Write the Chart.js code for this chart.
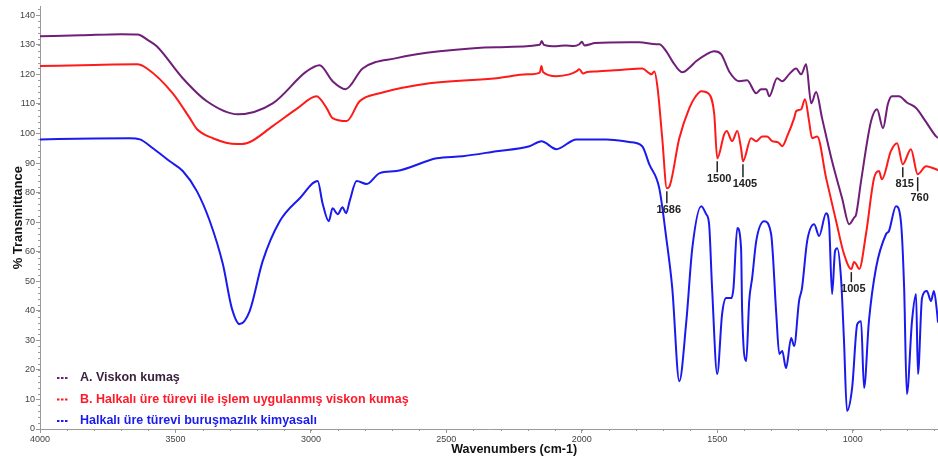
<!DOCTYPE html>
<html>
<head>
<meta charset="utf-8">
<script src="https://cdn.jsdelivr.net/npm/chart.js@4.4.1/dist/chart.umd.min.js"></script>
<style>
  html, body { margin: 0; padding: 0; background: #fff; }
  #wrap { width: 938px; height: 459px; }
</style>
</head>
<body>
<div id="wrap"><canvas id="ftir"></canvas></div>
<script>
// serilerin adlari
var seriesNames = [
    'A. Viskon kumaş',
    'B. Halkalı üre türevi ile işlem uygulanmış viskon kumaş',
    'Halkalı üre türevi buruşmazlık kimyasalı'
];
var xTitle = 'Wavenumbers (cm-1)';
var yTitle = '% Transmittance';

// A - viskon kumas (dalga sayisi, %T)
var wnA = [4000, 3850, 3700, 3640, 3600, 3569, 3473, 3384, 3270, 3141, 3016, 2968, 2920, 2872, 2809, 2684, 2525, 2315, 2155, 2148, 2140, 2094, 2060, 2030, 2009, 2000, 1990, 1950, 1824, 1788, 1725, 1714, 1688, 1666, 1629, 1600, 1577, 1540, 1511, 1485, 1456, 1419, 1390, 1356, 1338, 1319, 1308, 1279, 1260, 1235, 1209, 1190, 1172, 1153, 1135, 1113, 1076, 1039, 1013, 995, 987, 969, 932, 910, 888, 870, 855, 829, 800, 766, 730, 692, 685];
var tA = [132.9, 133.2, 133.6, 133.5, 131.5, 129.5, 118.7, 110.9, 106.5, 110.2, 121, 123.1, 117.7, 115, 122, 125.5, 127.8, 129.2, 130.0, 131.3, 130.0, 129.5, 129.8, 129.6, 130.2, 131, 129.8, 130.6, 130.9, 130.9, 130.2, 130.2, 127.8, 124.5, 120.7, 122.5, 124.5, 126.8, 127.8, 126.8, 121, 117.7, 118, 113.6, 115, 115, 112.6, 118.7, 117.7, 120, 122, 120, 123.4, 110.2, 114, 105.2, 90.6, 78.1, 69.3, 71.5, 72.7, 83.9, 104.2, 108.2, 101.8, 110, 112.6, 112.6, 110.5, 108.6, 104, 99, 98.5];

// B - islem uygulanmis kumas
var wnB = [4000, 3800, 3642, 3605, 3510, 3447, 3421, 3362, 3274, 3237, 3141, 3050, 2979, 2942, 2920, 2868, 2820, 2746, 2562, 2315, 2200, 2155, 2149, 2143, 2094, 2046, 2020, 2009, 1995, 1980, 1946, 1850, 1777, 1751, 1743, 1732, 1720, 1703, 1686, 1677, 1640, 1603, 1580, 1559, 1530, 1511, 1500, 1474, 1465, 1445, 1426, 1412, 1405, 1375, 1356, 1334, 1316, 1297, 1275, 1260, 1242, 1216, 1209, 1190, 1176, 1161, 1150, 1131, 1098, 1061, 1032, 1005, 995, 987, 976, 951, 921, 903, 892, 859, 836, 815, 785, 760, 729, 710, 692, 685];
var tB = [122.8, 123.2, 123.4, 122, 113.6, 105.2, 101.5, 98.4, 96.4, 96.7, 102.5, 108.5, 112.6, 108.6, 105.2, 104.2, 110.9, 113.6, 117, 118.7, 120, 120.6, 122.8, 120.8, 119.4, 120, 121, 121.7, 120.3, 120.8, 121, 121.6, 122, 120.4, 120, 121, 115.3, 98.4, 81.5, 82, 98.4, 108.6, 112.5, 114.3, 113.3, 106.5, 91.6, 99.8, 100.8, 97.4, 100.8, 95, 90.6, 98.4, 97.4, 99, 99, 97.4, 97, 95.7, 99, 105.2, 107.5, 108.2, 111.6, 104.2, 98.4, 99, 84.9, 70.3, 59.2, 54.1, 56.5, 55.8, 54.1, 65.9, 84.9, 87.3, 84.5, 94, 96.7, 89.6, 94.7, 86.2, 88.9, 88.5, 87.9, 87.5];

// C - burusmazlik kimyasali
var wnC = [4000, 3800, 3668, 3631, 3583, 3521, 3473, 3421, 3373, 3325, 3292, 3263, 3226, 3178, 3115, 3041, 2975, 2957, 2934, 2920, 2901, 2883, 2870, 2857, 2831, 2794, 2746, 2684, 2536, 2440, 2315, 2193, 2149, 2094, 2020, 1909, 1824, 1777, 1751, 1714, 1688, 1666, 1640, 1614, 1592, 1559, 1541, 1530, 1519, 1500, 1482, 1467, 1448, 1440, 1426, 1412, 1408, 1393, 1382, 1371, 1356, 1327, 1301, 1282, 1271, 1260, 1246, 1227, 1216, 1198, 1187, 1168, 1142, 1124, 1098, 1087, 1076, 1065, 1057, 1043, 1032, 1021, 1002, 983, 969, 958, 940, 914, 877, 866, 840, 822, 810, 800, 781, 766, 759, 744, 726, 711, 700, 689, 685];
var tC = [98, 98.3, 98.4, 98, 95, 90.6, 87.3, 80.5, 70.3, 55.8, 40.9, 35.5, 39.9, 56.8, 70.3, 78.1, 83.9, 76.4, 70.3, 74.7, 72.7, 75, 73, 77.1, 83.9, 82.9, 86.6, 87.3, 91.6, 92.3, 94, 95.7, 97.4, 94.7, 98, 98, 97.1, 95.7, 89.6, 81.5, 64.6, 47.7, 16.2, 36.5, 61.2, 75.4, 72.7, 69.3, 47.7, 18.6, 38.9, 44.3, 44.3, 47.7, 68, 61.2, 39.9, 23, 43.3, 51.1, 63.6, 70.3, 65.9, 38.9, 25.4, 26.4, 20.6, 30.8, 28.1, 43.3, 47.7, 63.6, 69.3, 65.3, 73, 69.3, 45.7, 60.2, 61.2, 51.1, 29.8, 6.1, 13.9, 35.5, 36.5, 13.9, 36.5, 54.4, 65.9, 67, 75.4, 70.3, 47.7, 11.8, 36.5, 45.7, 18.6, 44.3, 46.7, 43.3, 46.7, 39.9, 36];

// B egrisi uzerindeki isaretli tepeler
var peakLabels = ['1686', '1500', '1405', '1005', '815', '760'];
var peakWn = [1686, 1500, 1405, 1005, 815, 760];
var peakT = [81.5, 91.6, 90.6, 54.1, 89.6, 86.2];

var xTicks = [4000, 3500, 3000, 2500, 2000, 1500, 1000];
var yTicks = [0, 10, 20, 30, 40, 50, 60, 70, 80, 90, 100, 110, 120, 130, 140];

var colors = ['#6f1f78', '#ff1a1a', '#1a1aee'];
var textColors = ['#3a1f3c', '#ff1a2a', '#1a1aee'];

function toPoints(wn, t) {
    var pts = [];
    for (var i = 0; i < wn.length; i++) pts.push({ x: wn[i], y: t[i] });
    return pts;
}

var tickFont = "'Liberation Sans Narrow', 'Liberation Sans', Arial, sans-serif";
var boldFont = "'Liberation Sans', Arial, sans-serif";

// isaretli tepe etiketleri
var peakPlugin = {
    id: 'peaks',
    afterDatasetsDraw: function(chart) {
        var ctx = chart.ctx;
        var xs = chart.scales.x, ys = chart.scales.y;
        var lens = [12, 11, 13, 10, 10, 14];
        ctx.save();
        ctx.strokeStyle = '#222';
        ctx.fillStyle = '#222';
        ctx.lineWidth = 1.5;
        ctx.font = 'bold 11px ' + boldFont;
        ctx.textAlign = 'center';
        ctx.textBaseline = 'top';
        for (var i = 0; i < peakLabels.length; i++) {
            var px = xs.getPixelForValue(peakWn[i]);
            var py = ys.getPixelForValue(peakT[i]) + 3;
            ctx.beginPath();
            ctx.moveTo(px, py);
            ctx.lineTo(px, py + lens[i]);
            ctx.stroke();
            ctx.fillText(peakLabels[i], px + 2, py + lens[i] + 1);
        }
        ctx.restore();
    }
};

// grafik ici lejant ve x ekseni basligi
var legendPlugin = {
    id: 'inLegend',
    afterDatasetsDraw: function(chart) {
        var ctx = chart.ctx;
        var area = chart.chartArea;
        ctx.save();
        ctx.font = 'bold 12.5px ' + boldFont;
        ctx.textBaseline = 'middle';
        for (var i = 0; i < seriesNames.length; i++) {
            var y = area.bottom - 51 + i * 21.5;
            ctx.strokeStyle = colors[i];
            ctx.lineWidth = 2;
            ctx.setLineDash([2.5, 1.5]);
            ctx.beginPath();
            ctx.moveTo(area.left + 17, y);
            ctx.lineTo(area.left + 28, y);
            ctx.stroke();
            ctx.setLineDash([]);
            ctx.fillStyle = textColors[i];
            ctx.fillText(seriesNames[i], area.left + 40, y);
        }
        ctx.fillStyle = '#111';
        ctx.textAlign = 'center';
        ctx.font = 'bold 12.5px ' + boldFont;
        ctx.fillText(xTitle, area.left + area.width * 0.528, area.bottom + 21);
        ctx.restore();
    }
};

// kucuk ara cizgiler
var minorPlugin = {
    id: 'minorTicks',
    afterDraw: function(chart) {
        var ctx = chart.ctx;
        var xs = chart.scales.x, ys = chart.scales.y;
        var area = chart.chartArea;
        ctx.save();
        ctx.strokeStyle = '#999';
        ctx.lineWidth = 1;
        ctx.beginPath();
        for (var v = 0; v <= 142; v += 2) {
            var py = Math.round(ys.getPixelForValue(v)) + 0.5;
            ctx.moveTo(area.left - 2, py);
            ctx.lineTo(area.left, py);
        }
        for (var w = 4000; w >= 700; w -= 100) {
            var px = Math.round(xs.getPixelForValue(w)) + 0.5;
            ctx.moveTo(px, area.bottom);
            ctx.lineTo(px, area.bottom + 2);
        }
        ctx.stroke();
        ctx.restore();
    }
};

var ctx = document.getElementById('ftir').getContext('2d');
new Chart(ctx, {
    type: 'line',
    data: {
        datasets: [
            { label: seriesNames[0], data: toPoints(wnA, tA), borderColor: colors[0] },
            { label: seriesNames[1], data: toPoints(wnB, tB), borderColor: colors[1] },
            { label: seriesNames[2], data: toPoints(wnC, tC), borderColor: colors[2] }
        ]
    },
    options: {
        responsive: true,
        maintainAspectRatio: false,
        animation: false,
        layout: { padding: { top: 5, right: 0, left: 0, bottom: 0 } },
        elements: {
            point: { radius: 0 },
            line: { borderWidth: 2, tension: 0.3, cubicInterpolationMode: 'monotone' }
        },
        plugins: {
            legend: { display: false },
            tooltip: { enabled: false }
        },
        scales: {
            x: {
                type: 'linear',
                reverse: true,
                min: 685,
                max: 4000,
                afterBuildTicks: function(scale) {
                    scale.ticks = xTicks.map(function(v) { return { value: v }; });
                },
                afterFit: function(scale) { scale.height = 30; },
                grid: { drawOnChartArea: false, color: '#999', tickLength: 4 },
                border: { color: '#999' },
                ticks: {
                    color: '#444',
                    font: { family: tickFont, size: 9 },
                    padding: 1,
                    maxRotation: 0,
                    autoSkip: false,
                    callback: function(v) { return String(v); }
                },
                title: { display: false }
            },
            y: {
                min: 0,
                max: 143,
                afterBuildTicks: function(scale) {
                    scale.ticks = yTicks.map(function(v) { return { value: v }; });
                },
                afterFit: function(scale) { scale.width = 40; },
                grid: { drawOnChartArea: false, color: '#999', tickLength: 4 },
                border: { color: '#999' },
                ticks: {
                    color: '#444',
                    font: { family: tickFont, size: 9 },
                    padding: 1,
                    autoSkip: false
                },
                title: {
                    display: true,
                    text: yTitle,
                    color: '#111',
                    font: { family: boldFont, size: 13, weight: 'bold' },
                    padding: { top: 11, bottom: 0 }
                }
            }
        }
    },
    plugins: [peakPlugin, legendPlugin, minorPlugin]
});
</script>
</body>
</html>
